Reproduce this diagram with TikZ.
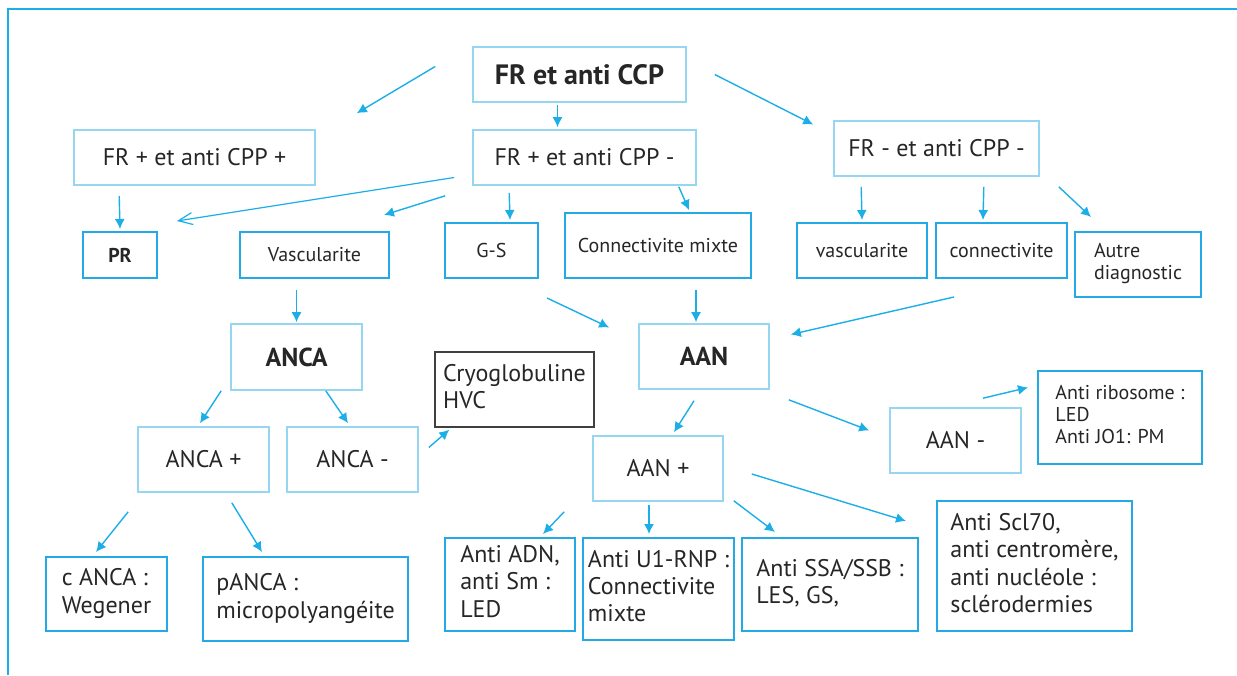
\documentclass[tikz,border=0pt]{standalone}
\usepackage{fontspec}
\setmainfont{PT Sans}
\usepackage{tikz}
\usetikzlibrary{arrows.meta}
\usetikzlibrary{calc}

\definecolor{lblue}{RGB}{150,214,240}
\definecolor{dblue}{RGB}{35,170,228}
\definecolor{arrblue}{RGB}{28,174,230}

\newcommand\mlines[1]{\begin{tabular}{@{}l@{}}#1\end{tabular}}

\tikzset{
  wh/.style 2 args={minimum width=#1*0.5pt, minimum height=#2*0.5pt},
  lbox/.style={draw=lblue, line width=0.8pt, inner sep=0pt, text=black!85},
  dbox/.style={draw=dblue, line width=1pt, inner sep=0pt, text=black!85},
  gbox/.style={draw=black!75, line width=0.7pt, inner sep=0pt, text=black!85},
  sm/.style={font=\fontsize{10}{11}\selectfont},
  nm/.style={font=\fontsize{12}{13.6}\selectfont},
  bg/.style={font=\fontsize{13}{15}\selectfont\bfseries},
  arr/.style={arrblue, line width=0.7pt, -{Latex[length=5pt,width=5pt]}},
  arro/.style={arrblue, line width=0.6pt, -{Straight Barb[length=7pt,width=6pt]}}
}

\begin{document}
\begin{tikzpicture}[x=0.5pt,y=-0.5pt]
          \useasboundingbox (0,0) rectangle (1237,675);
          \draw [arrblue, line width=1pt] (8,675) -- (8,9) -- (1237,9); % frame

          % top row
          \node [lbox, wh={213}{55}, font=\fontsize{14}{16}\selectfont\bfseries] (root) at (579.5,74.5) {FR et anti CCP};
          \node [lbox, nm, wh={241}{55}] (frpp) at (194.5,157.5) {FR + et anti CPP +};
          \node [lbox, nm, wh={223}{55}] (frpm) at (584.5,157.5) {FR + et anti CPP -};
          \node [lbox, nm, wh={205}{55}] (frmm) at (936.5,148.5) {FR - et anti CPP -};

          % second row
          \node [dbox, wh={74}{46}, font=\fontsize{10}{11}\selectfont\bfseries] (pr) at (120,255) {PR};
          \node [dbox, sm, wh={149}{46}] (vasc) at (314.5,255) {Vascularite};
          \node [dbox, sm, wh={93}{55}] (gs) at (491.5,250.5) {G-S};
          \node [dbox, sm, wh={186}{65}] (cmix) at (658,245.5) {Connectivite mixte};
          \node [dbox, sm, wh={130}{55}] (vasc2) at (862,250.5) {vascularite};
          \node [dbox, sm, wh={131}{55}] (conn) at (1001.5,250.5) {connectivite};
          \node [dbox, sm, wh={126}{65}] (autre) at (1138,264.5) {\mlines{Autre\\diagnostic}};

          % third row
          \node [lbox, bg, wh={131}{66}] (anca) at (296.5,357) {ANCA};
          \node [lbox, bg, wh={130}{65}] (aan) at (704,356.5) {AAN};
          \node [gbox, nm, wh={159}{75}] (cryo) at (514.5,389.5) {\mlines{Cryoglobuline\\HVC}};
          \node [dbox, sm, wh={164}{93}] (ribo) at (1120,417.5) {\mlines{Anti ribosome :\\LED\\Anti JO1: PM}};

          \node [lbox, nm, wh={131}{65}] (ancap) at (203.5,459.5) {ANCA +};
          \node [lbox, nm, wh={131}{65}] (ancam) at (352.5,459.5) {ANCA -};
          \node [lbox, nm, wh={131}{65}] (aanm) at (955.5,440.5) {AAN -};
          \node [lbox, nm, wh={130}{65}] (aanp) at (658,468.5) {AAN +};

          % bottom row
          \node [dbox, nm, wh={121}{74}] (canca) at (106.5,594) {\mlines{c ANCA :\\Wegener}};
          \node [dbox, nm, wh={205}{84}] (panca) at (305.5,599) {\mlines{pANCA :\\micropolyangéite}};
          \node [dbox, nm, wh={130}{93}] (adn) at (510,584.5) {\mlines{Anti ADN,\\anti Sm :\\LED}};
          \node [dbox, nm, wh={151}{102}] (u1) at (658.5,589) {\mlines{Anti U1-RNP :\\Connectivite\\mixte}};
          \node [dbox, nm, wh={176}{93}] (ssa) at (830,584.5) {\mlines{Anti SSA/SSB :\\LES, GS,}};
          \node [dbox, nm, wh={195}{130}] (scl) at (1034.5,566) {\mlines{Anti Scl70,\\anti centromère,\\anti nucléole :\\sclérodermies}};

          % arrows from the top
          \draw [arr] ($(root.west)+(-37,-8)$) -- ($(frpp.north east)+(41,-16)$);
          \draw [arr] ($(root.south)+(-22,2)$) -- ($(frpm.north)+(-27,-2)$);
          \draw [arr] ($(root.east)+(28,0)$) -- ($(frmm.west)+(-20,-24)$);

          \draw [arr] ($(frpp.south west)+(46,10)$) -- ($(pr.north)+(0,-2)$);
          \draw [arro] ($(frpm.west)+(-18,20)$) -- ($(pr.north east)+(19,-10)$);
          \draw [arr] ($(frpm.south west)+(-27,10)$) -- ($(vasc.north east)+(-6,-16)$);
          \draw [arr] ($(frpm.south west)+(37,7)$) -- ($(gs.north)+(18.5,-2)$);
          \draw [arr] ($(frpm.south east)+(-18,1)$) -- ($(cmix.north)+(31,-2)$);

          \draw [arr] ($(frmm.south west)+(28,10)$) -- ($(vasc2.north)+(0,-2)$);
          \draw [arr] ($(frmm.south east)+(-56,10)$) -- ($(conn.north)+(-18.5,-2)$);
          \draw [arr] ($(frmm.south east)+(19,10)$) -- ($(autre.north west)+(17,-14)$);

          % arrows to ANCA and AAN
          \draw [arr] ($(vasc.south)+(-18,11)$) -- ($(anca.north)+(0,-1)$);
          \draw [arr] ($(gs.south east)+(8,19)$) -- ($(aan.west)+(-29,-29)$);
          \draw [arr] ($(cmix.south)+(38,11)$) -- ($(aan.north)+(-8,-1)$);
          \draw [arr] ($(conn.south west)+(19,18)$) -- ($(aan.east)+(21,-22)$);

          \draw [arr] ($(anca.south west)+(-9,0)$) -- ($(ancap.north)+(-3.5,-3)$);
          \draw [arr] ($(anca.south east)+(-37,0)$) -- ($(ancam.north)+(-4.5,-3)$);
          \draw [arr] ($(ancam.east)+(10,-12)$) -- ($(cryo.south west)+(15,2)$);

          \draw [arr] ($(aan.south)+(-10,11)$) -- ($(aanp.north)+(16,-3)$);
          \draw [arr] ($(aan.south east)+(19,10)$) -- ($(aanm.west)+(-20,-10)$);
          \draw [arr] ($(aanm.north)+(27.5,-9)$) -- ($(ribo.west)+(-9,-30)$);

          % arrows to the bottom row
          \draw [arr] ($(ancap.south west)+(-9,19)$) -- ($(canca.north)+(-10.5,-4)$);
          \draw [arr] ($(ancap.south east)+(-38,10)$) -- ($(panca.north west)+(60,-4)$);
          \draw [arr] ($(aanp.south west)+(-28,10)$) -- ($(adn.north east)+(-33,-3)$);
          \draw [arr] ($(aanp.south)+(-9,3)$) -- ($(u1.north)+(-9.5,-3)$);
          \draw [arr] ($(aanp.south east)+(10,-1)$) -- ($(ssa.north)+(-55,-5)$);
          \draw [arr] ($(aanp.east)+(28,5.5)$) -- ($(scl.north west)+(-30,21)$);
        \end{tikzpicture}
\end{document}
